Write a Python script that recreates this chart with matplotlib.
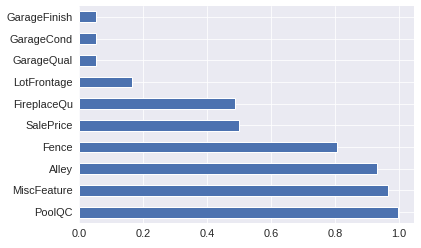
import matplotlib
matplotlib.use("Agg")
import matplotlib.pyplot as plt
import seaborn as sns
import pandas as pd

columns = ["PoolQC", "MiscFeature", "Alley", "Fence", "SalePrice",
           "FireplaceQu", "LotFrontage", "GarageQual", "GarageCond", "GarageFinish"]
missing_ratio = [0.9966, 0.9640, 0.9322, 0.8044, 0.4998,
                 0.4865, 0.1665, 0.0545, 0.0545, 0.0545]

sns.set_style("darkgrid")
plt.rcParams['font.family'] = ['Liberation Sans', 'DejaVu Sans']
plt.rcParams['font.size'] = 11

s = pd.Series(missing_ratio, index=columns)

fig = plt.figure(figsize=(421 / 72, 248 / 72), dpi=72)
ax = fig.add_axes([79 / 421, 25 / 248, 335 / 421, 217 / 248])
s.plot(kind="barh", ax=ax, color="#4C72B0")
ax.tick_params(axis="both", length=0, labelsize=11, colors=".15", pad=6)
for sp in ax.spines.values():
    sp.set_visible(False)

fig.savefig("out.png", dpi=72)
